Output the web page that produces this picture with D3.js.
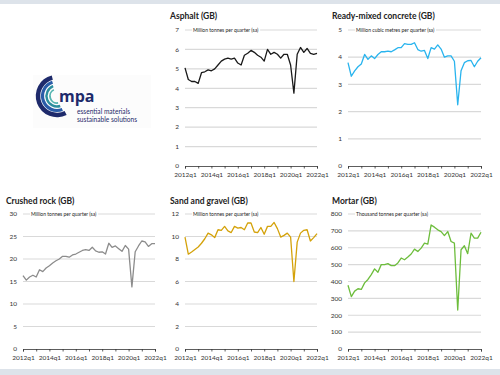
<!DOCTYPE html>
<html>
<head>
<meta charset="utf-8">
<script src="https://cdn.jsdelivr.net/npm/d3@7"></script>
<style>
  body { margin: 0; background: #fff; }
  svg { display: block; font-family: Lato, "Open Sans", sans-serif; }
</style>
</head>
<body>
<div id="chart"></div>
<script>
// Quarters 2012q1 .. 2022q1 (41 points)
const years = d3.range(2012, 2023);
const quarters = [];
years.forEach(y => [1, 2, 3, 4].forEach(q => { if (y < 2022 || q === 1) quarters.push(y + "q" + q); }));
const xTickLabels = ["2012q1", "2014q1", "2016q1", "2018q1", "2020q1", "2022q1"];

// Series values
const asphalt = [5.05,4.45,4.35,4.35,4.25,4.8,4.85,4.95,4.9,5.0,5.2,5.4,5.5,5.55,5.5,5.55,5.3,5.2,5.7,5.8,
  5.95,5.85,5.7,5.6,5.4,6.0,5.75,5.85,5.75,5.55,5.75,5.75,5.2,3.75,5.75,6.1,5.85,6.05,5.8,5.75,5.8];
const readyMixed = [3.8,3.3,3.5,3.65,3.75,4.1,3.92,4.05,3.95,4.1,4.2,4.2,4.22,4.2,4.27,4.35,4.35,4.5,4.47,4.47,
  4.53,4.28,4.22,4.25,3.95,4.35,4.3,4.45,4.3,4.0,4.05,4.05,3.85,2.25,3.5,3.8,3.87,3.88,3.65,3.85,3.98];
const crushedRock = [16.3,15.3,16.0,16.4,16.0,17.6,17.2,18.0,18.5,19.1,19.6,20.0,20.6,20.6,20.4,20.9,21.1,21.5,21.9,22.1,
  21.9,22.6,21.8,21.5,21.6,21.1,23.5,22.6,22.9,22.3,21.7,23.0,22.2,13.8,21.6,22.9,24.0,23.8,22.8,23.4,23.4];
const sandGravel = [9.95,8.43,8.63,8.85,9.07,9.4,9.8,10.3,10.15,9.9,10.6,10.55,10.9,10.5,10.35,10.9,10.75,10.8,10.6,11.2,
  11.2,10.4,10.35,10.8,10.2,10.9,10.9,11.25,10.7,9.95,10.1,10.3,9.95,6.0,9.5,10.3,10.55,10.6,9.6,9.9,10.25];
const mortar = [378,310,343,357,353,392,412,441,475,455,500,500,506,494,494,510,539,529,545,563,
  592,578,598,627,622,735,722,706,696,672,696,637,627,231,588,612,565,686,657,657,692];

const titles = ["Asphalt (GB)", "Ready-mixed concrete (GB)", "Crushed rock (GB)", "Sand and gravel (GB)", "Mortar (GB)"];
const units = ["Million tonnes per quarter (sa)", "Million cubic metres per quarter (sa)", "Million tonnes per quarter (sa)",
  "Million tonnes per quarter (sa)", "Thousand tonnes per quarter (sa)"];
const yMax = [7, 5, 30, 12, 800];
const yStep = [1, 1, 5, 2, 100];
const colors = ["#1a1a1a", "#29b4ee", "#8c8c8c", "#d4a20a", "#6dbd3c"];
const seriesList = [asphalt, readyMixed, crushedRock, sandGravel, mortar];

const W = 500, H = 375;
const svg = d3.select("#chart").append("svg").attr("width", W).attr("height", H);

// top and bottom bands
svg.append("rect").attr("x", 0).attr("y", 0).attr("width", W).attr("height", 4).attr("fill", "#dde3ea");
svg.append("rect").attr("x", 0).attr("y", 369).attr("width", W).attr("height", 6).attr("fill", "#dde3ea");

// panel layout: col, row
const slots = [[1, 0], [2, 0], [0, 1], [1, 1], [2, 1]];
const colX = [[23, 155], [185, 317], [348, 481]];
const rowY = [[30, 166], [214, 349]];
const titleX = [6, 170, 332];
const titleY = [19, 204];

seriesList.forEach((data, i) => {
    const [c, r] = slots[i];
    const x = d3.scalePoint().domain(quarters).range(colX[c]);
    const y = d3.scaleLinear().domain([0, yMax[i]]).range([rowY[r][1], rowY[r][0]]);
    const g = svg.append("g");

    // title
    g.append("text")
        .attr("x", titleX[c]).attr("y", titleY[r])
        .attr("font-size", 8.5).attr("font-weight", "bold").attr("fill", "#222")
        .text(titles[i]);

    // gridlines
    const ticks = d3.range(0, yMax[i] + yStep[i] / 2, yStep[i]);
    g.selectAll(".grid").data(ticks.filter(t => t > 0)).enter().append("line")
        .attr("x1", colX[c][0]).attr("x2", colX[c][1])
        .attr("y1", d => y(d)).attr("y2", d => y(d))
        .attr("stroke", "#d9d9d9").attr("stroke-width", 1.2);

    // y labels
    g.selectAll(".ylab").data(ticks).enter().append("text")
        .attr("x", colX[c][0] - 6).attr("y", d => y(d)).attr("dy", "0.35em")
        .attr("text-anchor", "end").attr("font-size", 6.5).attr("fill", "#333")
        .text(d => d);

    // units label with white background over the top gridline
    const u = g.append("text")
        .attr("x", colX[c][0] + 8).attr("y", y(yMax[i])).attr("dy", "0.35em")
        .attr("font-size", 5).attr("fill", "#222")
        .text(units[i]);
    const bb = u.node().getBBox();
    g.insert("rect", "text:last-child")
        .attr("x", bb.x - 1).attr("y", bb.y).attr("width", bb.width + 2).attr("height", bb.height)
        .attr("fill", "#fff");

    // x axis
    const xAxis = d3.axisBottom(x)
        .tickValues(quarters.filter(q => q.endsWith("q1")))
        .tickSize(2.5)
        .tickFormat(d => xTickLabels.includes(d) ? d : "");
    const ax = g.append("g")
        .attr("transform", "translate(0," + y(0) + ")")
        .call(xAxis);
    ax.select(".domain").attr("stroke", "#333").attr("stroke-width", 0.8);
    ax.selectAll(".tick line").attr("stroke", "#333").attr("stroke-width", 0.8);
    ax.selectAll("text").attr("font-size", 6.5).attr("fill", "#333").attr("font-family", "Lato, sans-serif").attr("dy", "0.9em");

    // line
    const line = d3.line().x((d, j) => x(quarters[j])).y(d => y(d));
    g.append("path").datum(data)
        .attr("d", line)
        .attr("fill", "none").attr("stroke", colors[i]).attr("stroke-width", 1.3)
        .attr("stroke-linejoin", "round");
});

// mpa logo
const logo = svg.append("g");
logo.append("rect").attr("x", 33).attr("y", 75).attr("width", 118).attr("height", 53).attr("fill", "#fcfcfc");
const arcs = [
    { r: 19, w: 4.5, c: "#1e2a6b", s: -0.08, e: -1.15 },
    { r: 14.5, w: 3.2, c: "#2a5ca8", s: -0.1, e: -1.12 },
    { r: 10.5, w: 2.4, c: "#2c8e9e", s: -0.12, e: -1.1 },
    { r: 7, w: 1.8, c: "#55b5b0", s: -0.15, e: -1.05 }
];
arcs.forEach(a => {
    logo.append("path")
        .attr("transform", "translate(57,96)")
        .attr("d", d3.arc()({ innerRadius: a.r - a.w / 2, outerRadius: a.r + a.w / 2, startAngle: a.e * Math.PI, endAngle: a.s * Math.PI }))
        .attr("fill", a.c);
});
logo.append("text").attr("x", 59).attr("y", 102).attr("font-size", 16).attr("font-weight", "bold")
    .attr("fill", "#1e2a6b").attr("font-family", "Open Sans, sans-serif").text("mpa");
logo.append("text").attr("x", 77).attr("y", 114).attr("font-size", 6.6).attr("fill", "#1e2a6b").text("essential materials");
logo.append("text").attr("x", 77).attr("y", 122).attr("font-size", 6.6).attr("fill", "#1e2a6b").text("sustainable solutions");
</script>
</body>
</html>
